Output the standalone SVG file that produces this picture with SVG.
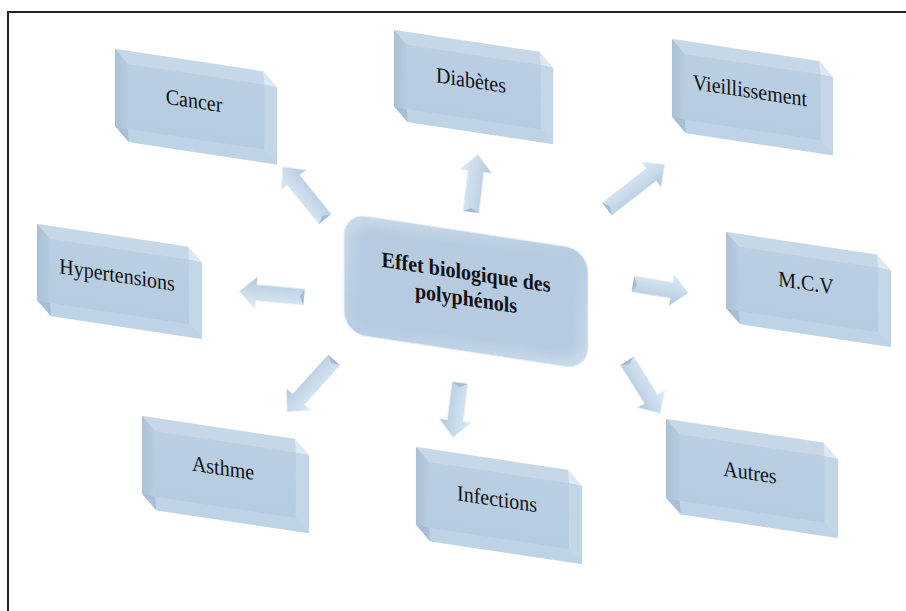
<svg xmlns="http://www.w3.org/2000/svg" xmlns:xlink="http://www.w3.org/1999/xlink" width="906" height="611" viewBox="0 0 906 611">
<style>
.lbl{font-family:"Liberation Serif","Times New Roman",serif;font-size:20px;fill:#111;text-anchor:middle}
.ctr{font-family:"Liberation Serif","Times New Roman",serif;font-size:20px;font-weight:bold;fill:#111;text-anchor:middle}
.arr{fill:url(#ag);stroke:#e6eef6;stroke-width:0.8}
.tail{fill:#a3bbd2}
</style>
<defs>
<linearGradient id="fg" x1="0" y1="0" x2="0" y2="1">
<stop offset="0" stop-color="#bacfe2"/><stop offset="1" stop-color="#b5cbdf"/>
</linearGradient>
<linearGradient id="lg" x1="0" y1="0" x2="1" y2="0">
<stop offset="0" stop-color="#a9c0d6"/><stop offset="1" stop-color="#b7cce0"/>
</linearGradient>
<linearGradient id="ag" x1="0" y1="0" x2="0" y2="1">
<stop offset="0" stop-color="#dce9f4"/><stop offset="0.5" stop-color="#c8dbeb"/><stop offset="1" stop-color="#aec6dc"/>
</linearGradient>
<linearGradient id="cg" x1="0" y1="0" x2="1" y2="1">
<stop offset="0" stop-color="#c9dbea"/><stop offset="0.5" stop-color="#b8cde1"/><stop offset="1" stop-color="#cadcec"/>
</linearGradient>
<filter id="bl" x="-10%" y="-10%" width="120%" height="120%"><feGaussianBlur stdDeviation="5"/></filter>
<g id="bx">
<polygon points="0,0 151,0 165,14 165,91 14,91 0,77" fill="#b8cde1" stroke="#eef4f9" stroke-width="0.7"/>
<polygon points="13,13 152,13 152,78 13,78" fill="url(#fg)"/>
<polygon points="0,0 151,0 152,13 13,13" fill="#c6d8e8"/>
<polygon points="151,0 165,14 152,13" fill="#dce8f3"/>
<polygon points="165,14 165,91 152,78 152,13" fill="#c2d6e8"/>
<polygon points="165,91 14,91 13,78 152,78" fill="#bfd3e6"/>
<polygon points="14,91 0,77 13,78" fill="#a7bed4"/>
<polygon points="0,77 0,0 13,13 13,78" fill="url(#lg)"/>
</g>
</defs>
<rect x="8" y="12" width="920" height="620" fill="#fff" stroke="#222" stroke-width="2"/>

<g id="connectors">
<g transform="translate(325,219) rotate(-128.9)"><polygon class="arr" points="0,-8 50,-8 50,-16 67,0 50,16 50,8 0,8"/><polygon class="tail" points="0,-8 4,0 0,8"/></g>
<g transform="translate(471,212) rotate(-83.1)"><polygon class="arr" points="0,-8 41,-8 41,-16 58,0 41,16 41,8 0,8"/><polygon class="tail" points="0,-8 4,0 0,8"/></g>
<g transform="translate(607,209) rotate(-37.8)"><polygon class="arr" points="0,-8 56,-8 56,-16 73,0 56,16 56,8 0,8"/><polygon class="tail" points="0,-8 4,0 0,8"/></g>
<g transform="translate(304,297) rotate(185.3)"><polygon class="arr" points="0,-8 48,-8 48,-16 65,0 48,16 48,8 0,8"/><polygon class="tail" points="0,-8 4,0 0,8"/></g>
<g transform="translate(633,284) rotate(9.3)"><polygon class="arr" points="0,-8 39,-8 39,-16 56,0 39,16 39,8 0,8"/><polygon class="tail" points="0,-8 4,0 0,8"/></g>
<g transform="translate(334,360) rotate(132.1)"><polygon class="arr" points="0,-8 53,-8 53,-16 70,0 53,16 53,8 0,8"/><polygon class="tail" points="0,-8 4,0 0,8"/></g>
<g transform="translate(460,383) rotate(97.3)"><polygon class="arr" points="0,-8 38,-8 38,-16 55,0 38,16 38,8 0,8"/><polygon class="tail" points="0,-8 4,0 0,8"/></g>
<g transform="translate(627,361) rotate(57.6)"><polygon class="arr" points="0,-8 45,-8 45,-16 62,0 45,16 45,8 0,8"/><polygon class="tail" points="0,-8 4,0 0,8"/></g>
</g>

<g id="center" transform="translate(344,213) skewY(8.6)">
<rect x="0" y="0" width="244" height="120" rx="22" fill="url(#cg)" stroke="#e4eef6" stroke-width="1"/>
<rect x="9" y="9" width="226" height="102" rx="16" fill="#b6cbdf" filter="url(#bl)"/>
<text class="ctr" transform="translate(122,48) scale(1,1.1)">Effet biologique des</text>
<text class="ctr" transform="translate(122,74) scale(1,1.1)">polyphénols</text>
</g>

<g id="cancer" transform="translate(115,49) skewY(8.6)">
<use xlink:href="#bx" transform="scale(0.982,1)"/>
<text class="lbl" transform="translate(79,47) scale(1,1.1)">Cancer</text>
</g>
<g id="diabetes" transform="translate(394,30) skewY(8.6)">
<use xlink:href="#bx" transform="scale(0.964,0.989)"/>
<text class="lbl" transform="translate(77,46) scale(1,1.1)">Diabètes</text>
</g>
<g id="vieillissement" transform="translate(672,39) skewY(8.6)">
<use xlink:href="#bx" transform="scale(0.976,1.011)"/>
<text class="lbl" transform="translate(78,47) scale(1,1.1)">Vieillissement</text>
</g>
<g id="hypertensions" transform="translate(37,224) skewY(8.6)">
<use xlink:href="#bx" transform="scale(1,0.989)"/>
<text class="lbl" transform="translate(80,46) scale(1,1.1)">Hypertensions</text>
</g>
<g id="mcv" transform="translate(726,232) skewY(8.6)">
<use xlink:href="#bx" transform="scale(1,0.989)"/>
<text class="lbl" transform="translate(80,46) scale(1,1.1)">M.C.V</text>
</g>
<g id="asthme" transform="translate(142,416) skewY(8.6)">
<use xlink:href="#bx" transform="scale(1.012,1.011)"/>
<text class="lbl" transform="translate(81,47) scale(1,1.1)">Asthme</text>
</g>
<g id="infections" transform="translate(416,447) skewY(8.6)">
<use xlink:href="#bx" transform="scale(1.006,1.011)"/>
<text class="lbl" transform="translate(81,47) scale(1,1.1)">Infections</text>
</g>
<g id="autres" transform="translate(666,419) skewY(8.6)">
<use xlink:href="#bx" transform="scale(1.042,1.022)"/>
<text class="lbl" transform="translate(84,48) scale(1,1.1)">Autres</text>
</g>
</svg>
